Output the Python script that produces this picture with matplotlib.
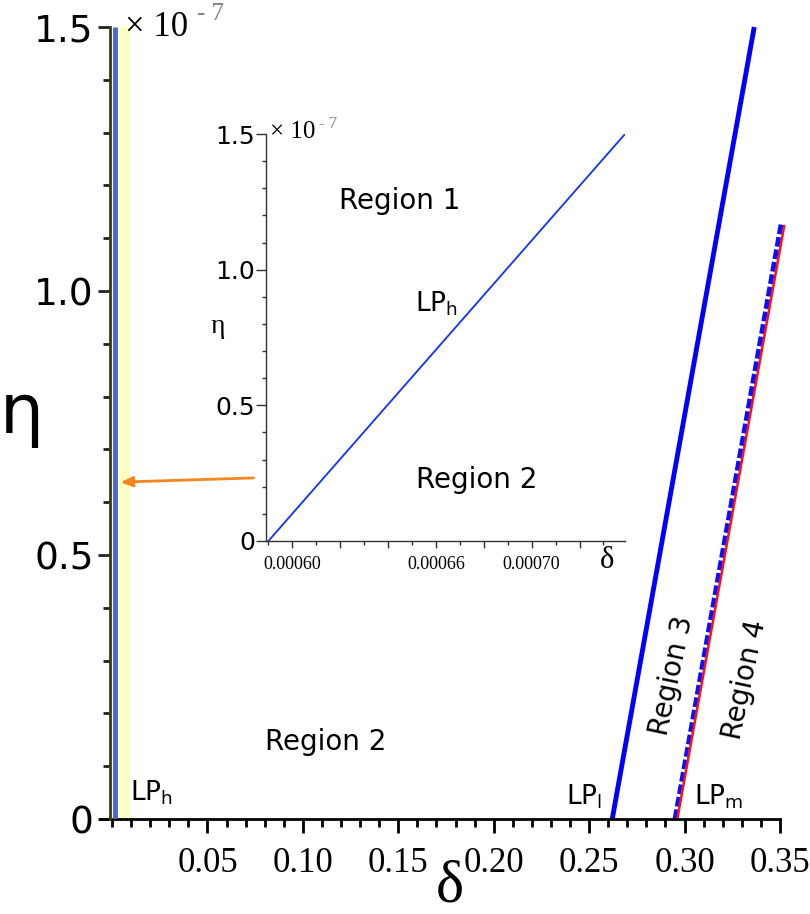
"""
Bifurcation diagram in the (delta, eta) plane with an inset zoom on LP_h.
"""
import numpy as np
import matplotlib
matplotlib.use("Agg")
import matplotlib.pyplot as plt
from matplotlib.ticker import MultipleLocator, FixedLocator, FixedFormatter

plt.rcParams["mathtext.fontset"] = "dejavusans"
SANS = "DejaVu Sans"
SERIF = "Liberation Serif"

# eta values are in units of 1e-7
# main panel curves
lp_h_delta = [0.0015, 0.0015]
lp_h_eta = [0.0, 1.5]
lp_l_delta = [0.2621, 0.3365]
lp_l_eta = [0.0, 1.5]
lp_m_delta = [0.2950, 0.3506]
lp_m_eta = [0.0, 1.127]
red_delta = [0.2962, 0.3522]
red_eta = [0.0, 1.123]
band_delta = [-0.0005, 0.0095]

x_major = [0.05, 0.10, 0.15, 0.20, 0.25, 0.30, 0.35]
x_major_labels = ["0.05", "0.10", "0.15", "0.20", "0.25", "0.30", "0.35"]
y_major = [0.0, 0.5, 1.0, 1.5]
y_major_labels = ["0", "0.5", "1.0", "1.5"]

# inset curve
inset_delta = [0.000590, 0.000739]
inset_eta = [0.0, 1.5]
inset_x_major = [0.00060, 0.00062, 0.00064, 0.00066, 0.00068, 0.00070, 0.00072]
inset_x_labels = ["0.00060", "", "", "0.00066", "", "0.00070", ""]

fig = plt.figure(figsize=(8.1, 9.14), dpi=100)

# ---------------- main axes ----------------
ax = fig.add_axes([100 / 810, 1 - 819 / 914, 680 / 810, 792 / 914])
ax.set_xlim(-0.0063, 0.35)
ax.set_ylim(0, 1.5)

ax.axvspan(band_delta[0], band_delta[1], color="#ffffc4", zorder=0, lw=0)
ax.plot(lp_h_delta, lp_h_eta, color="#4a66d0", lw=3.5, solid_capstyle="butt", zorder=3)
ax.plot(lp_l_delta, lp_l_eta, color="#0000ff", lw=3.5, solid_capstyle="butt", clip_on=False)
ax.plot(lp_m_delta, lp_m_eta, color="#0a10ff", lw=3.5, ls=(0, (2, 0.6)),
        solid_capstyle="butt", clip_on=False)
ax.plot(red_delta, red_eta, color="#ff1010", lw=1.8, clip_on=False)

for s in ["top", "right"]:
    ax.spines[s].set_visible(False)
ax.spines["left"].set_position(("data", -0.0009))
ax.spines["left"].set_color("#3d3a12")
ax.spines["left"].set_linewidth(2)
ax.spines["bottom"].set_linewidth(2)
ax.spines["left"].set_zorder(4)

ax.xaxis.set_major_locator(FixedLocator(x_major))
ax.xaxis.set_major_formatter(FixedFormatter(x_major_labels))
ax.xaxis.set_minor_locator(MultipleLocator(0.01))
ax.yaxis.set_major_locator(FixedLocator(y_major))
ax.yaxis.set_major_formatter(FixedFormatter(y_major_labels))
ax.yaxis.set_minor_locator(MultipleLocator(0.1))

ax.tick_params(axis="x", which="major", direction="out", length=10, width=2, pad=10)
ax.tick_params(axis="x", which="minor", direction="out", length=6, width=2)
ax.tick_params(axis="y", which="major", direction="out", length=9, width=2, pad=3,
               color="#222222")
ax.tick_params(axis="y", which="minor", direction="out", length=5, width=2,
               color="#222222")
for lab in ax.get_xticklabels():
    lab.set_fontfamily(SERIF)
    lab.set_fontsize(25)
for lab in ax.get_yticklabels():
    lab.set_fontfamily(SANS)
    lab.set_fontsize(27)

ax.text(0.037, 1.0, "\u00d7 10", transform=ax.transAxes, fontsize=25,
        family=SERIF, ha="left", va="center")
ax.text(0.142, 1.017, "- 7", transform=ax.transAxes, fontsize=18,
        family=SERIF, ha="left", va="center", color="#808080")

ax.text(-0.115, 0.511, "\u03b7", transform=ax.transAxes, fontsize=50,
        family=SANS, ha="center", va="center")
ax.text(0.515, -0.086, "\u03b4", transform=ax.transAxes, fontsize=43,
        family=SERIF, ha="center", va="center")

ax.text(0.1118, 0.146, "Region 2", fontsize=20, family=SANS, ha="center", va="center")
ax.text(0.0095, 0.049, r"$\mathrm{LP}_\mathrm{h}$", fontsize=19, ha="left", va="center")
ax.text(0.2474, 0.042, r"$\mathrm{LP}_\mathrm{l}$", fontsize=19, ha="center", va="center")
ax.text(0.318, 0.042, r"$\mathrm{LP}_\mathrm{m}$", fontsize=19, ha="center", va="center")
ax.text(0.2934, 0.271, "Region 3", fontsize=20, family=SANS, ha="center",
        va="center", rotation=78, rotation_mode="anchor")
ax.text(0.3317, 0.263, "Region 4", fontsize=20, family=SANS, ha="center",
        va="center", rotation=78, rotation_mode="anchor")

ax.annotate("", xy=(0.0045, 0.638), xytext=(0.0741, 0.646),
            arrowprops=dict(arrowstyle="-|>,head_length=0.7,head_width=0.3",
                            color="#f4861e", lw=2, shrinkA=0, shrinkB=0))

# ---------------- inset axes ----------------
ins = fig.add_axes([266 / 810, 1 - 541 / 914, 359 / 810, 407 / 914])
ins.patch.set_alpha(0)
ins.set_xlim(0.000589, 0.000739)
ins.set_ylim(0, 1.5)
ins.plot(inset_delta, inset_eta, color="#1030ff", lw=1.3)

for s in ["top", "right"]:
    ins.spines[s].set_visible(False)
for s in ["left", "bottom"]:
    ins.spines[s].set_linewidth(1)
    ins.spines[s].set_color("#333333")

ins.xaxis.set_major_locator(FixedLocator(inset_x_major))
ins.xaxis.set_major_formatter(FixedFormatter(inset_x_labels))
ins.xaxis.set_minor_locator(MultipleLocator(0.00001))
ins.yaxis.set_major_locator(FixedLocator(y_major))
ins.yaxis.set_major_formatter(FixedFormatter(y_major_labels))
ins.yaxis.set_minor_locator(MultipleLocator(0.1))
ins.tick_params(axis="x", which="major", direction="out", length=5, width=1, pad=6,
                color="#333333")
ins.tick_params(axis="x", which="minor", direction="out", length=3, width=1,
                color="#333333")
ins.tick_params(axis="y", which="major", direction="out", length=7, width=1, pad=1,
                color="#333333")
ins.tick_params(axis="y", which="minor", direction="out", length=3, width=1,
                color="#333333")
for lab in ins.get_xticklabels():
    lab.set_fontfamily(SERIF)
    lab.set_fontsize(13)
for lab in ins.get_yticklabels():
    lab.set_fontfamily(SANS)
    lab.set_fontsize(18)

ins.text(0.012, 1.005, "\u00d7 10", transform=ins.transAxes, fontsize=18,
         family=SERIF, ha="left", va="center")
ins.text(0.148, 1.025, "- 7", transform=ins.transAxes, fontsize=12,
         family=SERIF, ha="left", va="center", color="#808080")
ins.text(-0.134, 0.526, "\u03b7", transform=ins.transAxes, fontsize=20,
         family=SERIF, ha="center", va="center")
ins.text(0.95, -0.047, "\u03b4", transform=ins.transAxes, fontsize=22,
         family=SERIF, ha="center", va="center")

ins.text(0.000645, 1.254, "Region 1", fontsize=20, family=SANS, ha="center", va="center")
ins.text(0.0006603, 0.875, r"$\mathrm{LP}_\mathrm{h}$", fontsize=19, ha="center", va="center")
ins.text(0.000677, 0.224, "Region 2", fontsize=20, family=SANS, ha="center", va="center")

fig.savefig("out.png", dpi=100)
